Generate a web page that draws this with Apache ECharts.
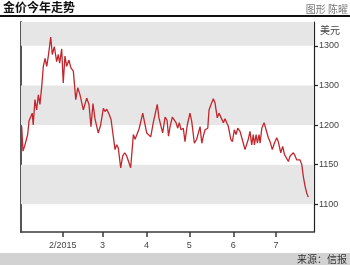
<!DOCTYPE html>
<html>
<head>
<meta charset="utf-8">
<script src="https://cdn.jsdelivr.net/npm/echarts@6/dist/echarts.min.js"></script>
<style>
html,body{margin:0;padding:0;background:#fff;}
#c{width:350px;height:265px;}
</style>
</head>
<body>
<div id="c"></div>
<script>
// day of 2015 (Jan 1 = 0)
var days = [2.2,3.1,4.5,6.4,7.3,8.7,9.6,10.3,11.5,12.7,13.9,15.0,16.2,17.4,18.6,19.8,20.9,22.6,23.7,25.1,26.8,27.9,28.9,30.3,31.4,32.6,33.8,35.4,36.8,38.5,40.2,41.6,43.2,44.4,45.5,47.9,49.5,50.9,52.3,53.7,56.0,57.7,59.6,60.8,62.0,63.8,65.0,66.2,67.8,69.0,70.1,71.8,73.2,74.6,76.0,77.1,78.8,80.7,81.9,83.1,84.7,85.9,87.3,88.4,90.1,91.2,92.9,94.7,96.4,97.5,98.7,99.9,101.3,103.0,104.4,105.4,106.5,108.1,109.5,110.7,111.9,113.0,114.2,115.8,117.0,118.6,120.5,121.7,123.6,125.2,126.4,127.6,128.8,129.9,131.1,133.0,133.9,135.3,136.9,138.1,139.7,140.9,142.3,144.0,145.1,146.3,147.5,149.2,150.3,151.7,152.9,154.1,155.7,156.9,158.0,159.2,160.4,161.5,162.7,163.9,165.0,165.8,167.0,167.9,169.1,169.8,171.0,172.6,174.0,175.6,176.8,178.4,179.8,181.5,182.6,184.3,185.7,186.9,188.0,189.7,190.9,192.1,193.2,194.4,195.6,196.7,197.9,199.1,200.2,201.4,202.6,203.7];
// gold price, USD
var prices = [1198,1167,1175,1188,1205,1211,1215,1200,1232,1219,1238,1226,1247,1274,1284,1274,1287,1311,1289,1299,1280,1289,1278,1296,1253,1287,1274,1282,1272,1268,1232,1247,1238,1236,1219,1234,1226,1198,1227,1208,1190,1200,1221,1217,1220,1213,1207,1209,1169,1175,1171,1146,1161,1165,1161,1160,1146,1188,1182,1184,1195,1194,1215,1205,1190,1192,1185,1203,1217,1226,1209,1211,1190,1210,1206,1186,1198,1210,1209,1203,1196,1203,1194,1196,1179,1200,1215,1205,1177,1182,1190,1198,1177,1186,1194,1196,1219,1226,1233,1228,1209,1215,1216,1203,1208,1209,1198,1182,1179,1194,1188,1196,1192,1190,1177,1169,1171,1182,1192,1175,1188,1175,1188,1177,1188,1177,1196,1203,1194,1184,1179,1169,1177,1184,1179,1165,1173,1163,1165,1154,1161,1163,1165,1161,1156,1154,1156,1150,1135,1123,1114,1109];
var monthStarts = [31,59,90,120,151,181];
var monthLabels = ['2/2015','3','4','5','6','7'];
var tickValues = [1100,1150,1200,1250,1300];
var tickLabels = ['1100','1150','1200','1300','1300'];
var bandRanges = [[1300,1330],[1200,1250],[1100,1150]];

var pts = days.map(function(d,i){return [d, prices[i]];});
var chart = echarts.init(document.getElementById('c'), null, {renderer:'canvas'});
var numFont = '"Liberation Sans", Arial, "Noto Sans CJK SC", sans-serif';
var cjkFont = '"Noto Sans CJK SC", "Liberation Sans", sans-serif';
chart.setOption({
  animation:false,
  backgroundColor:'#fff',
  grid:{left:21,right:36,top:22,bottom:33},
  xAxis:{
    type:'value', min:1.7, max:207.7,
    axisLine:{show:true,onZero:false,lineStyle:{color:'#3a3a3a',width:1.5}},
    axisTick:{show:true,inside:false,length:5,customValues:monthStarts,lineStyle:{color:'#3a3a3a',width:1.5}},
    axisLabel:{customValues:monthStarts,margin:9,fontSize:9,color:'#444',fontFamily:numFont,
      formatter:function(v){var i=monthStarts.indexOf(v);return i>=0?monthLabels[i]:'';}},
    splitLine:{show:false}
  },
  yAxis:[{
    type:'value', position:'right', min:1065, max:1330,
    axisLine:{show:true,lineStyle:{color:'#222',width:1.2}},
    axisTick:{show:true,inside:false,length:4,customValues:tickValues,lineStyle:{color:'#222',width:1.2}},
    axisLabel:{customValues:tickValues,margin:5,fontSize:9,color:'#444',fontFamily:numFont,
      formatter:function(v){var i=tickValues.indexOf(v);return i>=0?tickLabels[i]:'';}},
    splitLine:{show:false}
  },{
    type:'value', position:'left', min:1065, max:1330,
    axisLine:{show:true,lineStyle:{color:'#555',width:2}},
    axisTick:{show:false}, axisLabel:{show:false}, splitLine:{show:false}
  }],
  series:[{
    type:'line', data:[], z:1, silent:true,
    markArea:{silent:true, itemStyle:{color:'#e6e6e6'},
      data:bandRanges.map(function(r){return [{yAxis:r[0]},{yAxis:r[1]}];})}
  },{
    type:'line', data:pts, z:3, symbol:'none', smooth:false,
    lineStyle:{color:'#c1272d',width:1.3}
  }],
  graphic:[
    {type:'text',left:3,top:1,style:{text:'金价今年走势',font:'bold 12px '+cjkFont,fill:'#111'}},
    {type:'text',right:2,top:4,style:{text:'图形 陈曜',font:'10px '+cjkFont,fill:'#777'}},
    {type:'rect',shape:{x:0,y:15,width:350,height:2},style:{fill:'#111'}},
    {type:'text',left:320,top:25,style:{text:'美元',font:'10px '+cjkFont,fill:'#444'}},
    {type:'rect',shape:{x:0,y:253,width:350,height:12},style:{fill:'#d2d2d2'}},
    {type:'text',right:3,top:254,style:{text:'来源：信报',font:'10px '+cjkFont,fill:'#333'}}
  ]
});
</script>
</body>
</html>
